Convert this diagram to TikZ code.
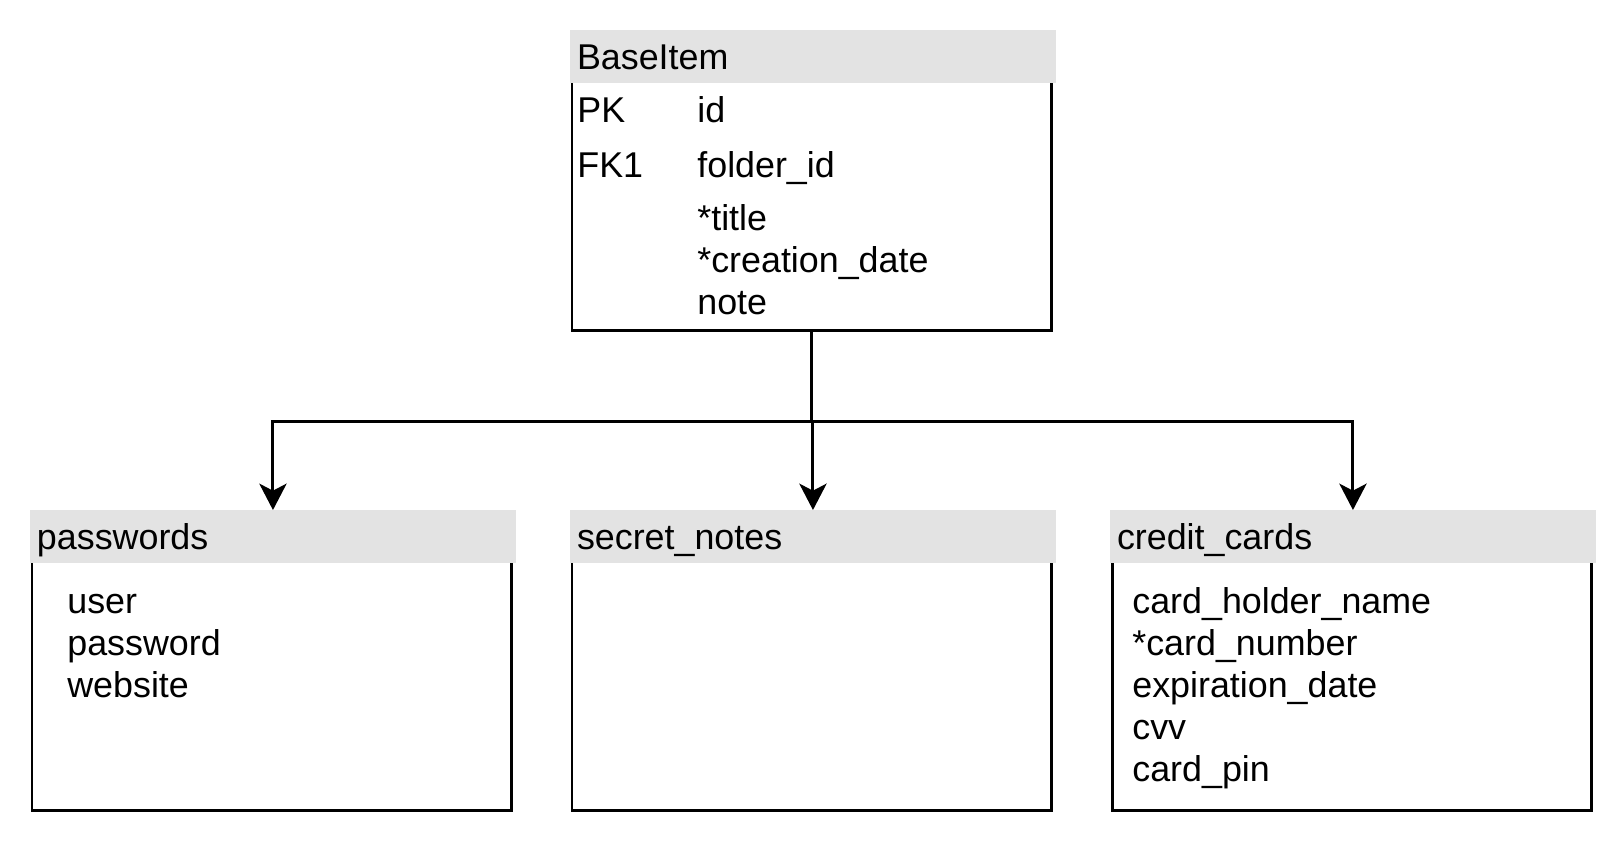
\documentclass[tikz,border=0pt]{standalone}
\usepackage{fontspec}
\setmainfont{Liberation Sans}
\usetikzlibrary{arrows.meta}
\definecolor{headgray}{RGB}{227,227,227}

\begin{document}
\begin{tikzpicture}[x=0.02cm, y=-0.02cm,
    font=\fontsize{20.4}{24}\selectfont,
    tbody/.style={draw, line width=1.7pt, outer sep=0pt, anchor=north west,
      minimum width=9.6cm, minimum height=5.82cm},
    thead/.style={fill=headgray, outer sep=0pt, anchor=north west, inner xsep=0.14cm,
      minimum width=9.72cm, minimum height=1.06cm, text width=9.44cm, align=left,
      text height=0.6cm, text depth=0.1cm},
    fld/.style={inner sep=0pt, anchor=base west},
    link/.style={line width=1.7pt, -{Stealth[length=15pt, width=15.5pt, inset=4pt]}}]
  \useasboundingbox (0,0) rectangle (1623,843);
  \node[tbody] (bibody) at (572,40) {};
  \node[thead] (bihead) at (570,30) {BaseItem};
  \node[tbody] (pwbody) at (32,520) {};
  \node[thead] (pwhead) at (30,510) {passwords};
  \node[tbody] (snbody) at (572,520) {};
  \node[thead] (snhead) at (570,510) {secret\_notes};
  \node[tbody] (ccbody) at (1112,520) {};
  \node[thead] (cchead) at (1110,510) {credit\_cards};
  \node[fld] (pk) at (577,122) {PK};
  \node[fld] (pkid) at (697,122) {id};
  \node[fld] (fk) at (577,177) {FK1};
  \node[fld] (fkid) at (697,177) {folder\_id};
  \foreach \f [count=\i] in {*title, *creation\_date, note}
    \node[fld] (bi\i) at (697,188+42*\i) {\f};
  \foreach \f [count=\i] in {user, password, website}
    \node[fld] (pw\i) at (67,571+42*\i) {\f};
  \foreach \f [count=\i] in {card\_holder\_name, *card\_number, expiration\_date, cvv, card\_pin}
    \node[fld] (cc\i) at (1132,571+42*\i) {\f};
  \foreach \t in {pwhead, snhead, cchead}
    \draw[link] (bibody.south) -- ++(0,91) -| (\t.north);
\end{tikzpicture}
\end{document}
